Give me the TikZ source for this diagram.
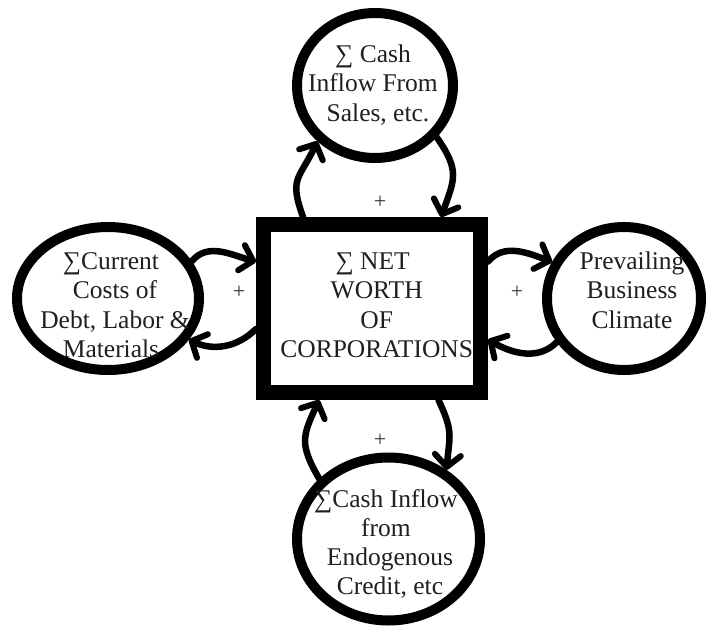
\documentclass[tikz,border=0pt]{standalone}
\usepackage{fontspec}
\setmainfont{Liberation Serif}
\usetikzlibrary{arrows.meta,shapes.geometric}
\begin{document}
\begin{tikzpicture}[x=1pt,y=-1pt,
  txt/.style={align=center,inner sep=0pt,text=black!88,font=\fontsize{25.5}{29.3}\selectfont},
  oval/.style={ellipse,draw,line width=10pt,inner sep=0pt,outer sep=5pt},
  link/.style={line width=6.5pt,line cap=round,-{Straight Barb[length=12pt,width=26pt,round,line width=6pt]}},
  plus/.style={inner sep=0pt,text=black!80,font=\fontsize{22}{22}\selectfont}]
\useasboundingbox (0,0) rectangle (707,626);
\node[draw,line width=15pt,minimum width=217pt,minimum height=168pt,inner sep=0pt,outer sep=7.5pt] (box) at (372,308.5) {};
\node[oval,minimum width=156pt,minimum height=145pt] (top) at (375,85.5) {};
\node[oval,minimum width=182pt,minimum height=143pt] (left) at (108,298.5) {};
\node[oval,minimum width=154pt,minimum height=143pt] (right) at (624,298.5) {};
\node[oval,minimum width=183pt,minimum height=163pt] (bottom) at (388.5,539) {};

\node[txt] (boxtxt) at (376.7,307.7) {\strut∑ NET\hspace*{8pt}\\\strut WORTH\hspace*{20pt}\\\strut OF\hspace*{22pt}\\\strut CORPORATIONS};
\node[txt] (toptxt) at (373,86.1) {\strut∑ Cash\\\strut Inflow From\\\hspace*{10pt}\strut Sales, etc.};
\node[txt] (lefttxt) at (115,307.6) {\strut∑Current\hspace*{8pt}\\\strut Costs of\hspace*{18pt}\\\strut Debt, Labor \&\\\strut Materials\hspace*{8pt}};
\node[txt] (righttxt) at (632,293.1) {\strut Prevailing\\\strut Business\hspace*{4pt}\\\strut Climate};
\node[txt] (bottomtxt) at (386,545.1) {\strut∑Cash Inflow\\\strut from\hspace*{6pt}\\\hspace*{8pt}\strut Endogenous\\\hspace*{8pt}\strut Credit, etc};

\draw[link] (box.127) to[out=110,in=245,looseness=1.4] (top.224);
\draw[link] (top.-40) to[out=-55,in=70,looseness=1.3] (box.53);
\draw[link] (left.24) to[out=50,in=165] (box.158);
\draw[link] (box.190) to[out=-135,in=-25] (left.-27);
\draw[link] (box.22) to[out=50,in=160] (right.153);
\draw[link] (right.213) to[out=-135,in=-30] (box.-15);
\draw[link] (bottom.139) to[out=120,in=245,looseness=1.3] (box.240);
\draw[link] (box.-54) to[out=-65,in=85,looseness=1.3] (bottom.50);

\node[plus] (p1) at (380,202) {+};
\node[plus] (p2) at (239,292) {+};
\node[plus] (p3) at (517,292) {+};
\node[plus] (p4) at (380,440) {+};
\end{tikzpicture}
\end{document}
